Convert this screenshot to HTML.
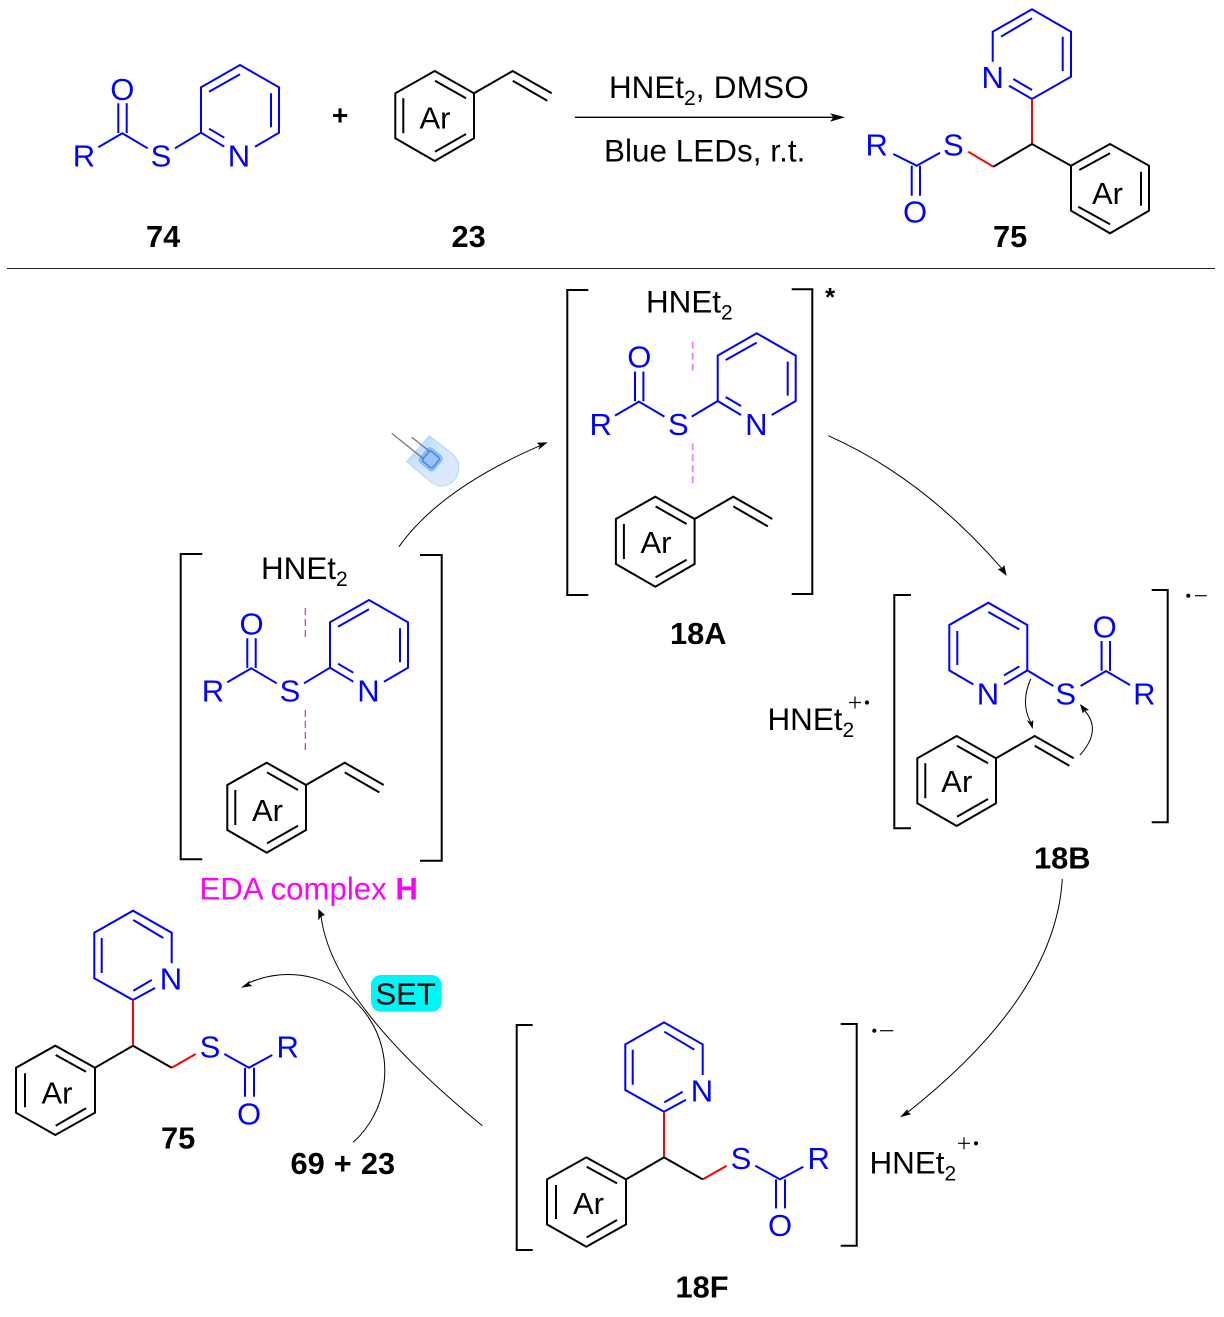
<!DOCTYPE html>
<html>
<head>
<meta charset="utf-8">
<style>
html,body{margin:0;padding:0;background:#fff}
svg{display:block}
text{font-family:"Liberation Sans",Arial,sans-serif;font-size:31px;fill:#000}
.b text,text.b{fill:#00f;text-anchor:middle}
.l{font-weight:bold;font-size:30.8px}
.w{font-size:31.4px}
.bk{fill:none;stroke:#000;stroke-width:2}
.blue{fill:none;stroke:#00f;stroke-width:2}
.thin{fill:none;stroke:#000;stroke-width:1}
.red{fill:none;stroke:#f00;stroke-width:2}
</style>
</head>
<body>
<svg width="1224" height="1317" viewBox="0 0 1224 1317" xmlns="http://www.w3.org/2000/svg">
<defs>
<linearGradient id="led" x1="0" y1="0" x2="1" y2="1">
<stop offset="0" stop-color="#a6d2f8"/><stop offset="0.45" stop-color="#d6e6fa"/><stop offset="1" stop-color="#dfeafc"/>
</linearGradient>
<g id="thio">
<path class="blue" d="M224.3 146.7L201 132.7V87.3L240 65L279 87.3V132.7L255 146.7M209 91.7L240 74.3M271 93.3V127.3M209 128.7L224.3 137.7M201 132.7L175 148.3M147.7 148.3L122.3 133.3L98.3 147.3M118.3 103.3V133M126.7 103.3V133"/>
</g>
<g id="styr">
<path class="bk" d="M434.7 71L474 93.3V138.3L434.7 161L395.3 138.3V93.3ZM435 80.7L466 98.3M435 151.7L466 134M403.3 98.3V133.3M474 93.3L512.7 71L551.7 93.3M512.7 80.7L547.3 100.7"/>
</g>
<g id="prod">
<path class="blue" d="M155 988L133 1000L94.3 978.3V932.7L133 910.7L171.7 932.7V963.3M101.7 938V973M133.3 920L163.3 938M133.3 990.7L151.7 980M224.3 1054L249 1067.7L272.3 1055M245 1067.7V1096.7M254 1067.7V1096.7"/>
<path class="red" d="M133 1000V1045.7M171.7 1067.7L195.7 1054"/>
<path class="bk" d="M133 1045.7L95 1067.7L55.3 1045.7L16 1067.7V1112.7L55.3 1135L95 1112.7V1067.7M55.7 1055L86 1071.7M25 1073.3V1107.3M55.7 1125.7L86 1108.3M133 1045.7L171.7 1067.7"/>
</g>
</defs>

<!-- top row -->
<use href="#thio"/>
<g class="b"><text x="122.3" y="100">O</text><text x="84" y="166.7">R</text><text x="161" y="166.7">S</text><text x="239" y="166.7">N</text></g>
<text x="340" y="124.5" text-anchor="middle" font-weight="bold" style="font-size:28px">+</text>
<use href="#styr"/>
<text x="419.5" y="128.3">Ar</text>
<text class="l" x="146" y="247">74</text>
<text class="l" x="451.5" y="247">23</text>

<path class="bk" style="stroke-width:1.3" d="M575 117.3H835"/>
<path d="M845 117.3L830 113.3L833.5 117.3L830 121.7Z"/>
<text class="w" x="609" y="98">HNEt<tspan dy="7" style="font-size:21px">2</tspan><tspan dy="-7" style="letter-spacing:.3px">, DMSO</tspan></text>
<text class="w" x="604" y="161.6" style="letter-spacing:.05px">Blue LEDs, r.t.</text>

<!-- product 75 top -->
<path class="blue" d="M1009 85.7L1032 99L1071 76.7V31.7L1032 9.3L992.7 31.7V61.7M1001 36.7L1032 18.3M1062.7 36.7V71M1013.3 79L1032 90M940 152.7L916.7 165.7L893.3 154M911.7 165.7V195.7M920 165.7V195.7"/>
<path class="red" d="M1032 99V144M993.3 166.7L968.3 151.7"/>
<path class="bk" d="M993.3 166.7L1032 144L1071 165.7L1110 144L1149 165.7V210.7L1110 233.3L1071 210.7V165.7M1079.3 170L1110 153.3M1141 171.7V205.7M1078.3 206.7L1110 224.3"/>
<g class="b"><text x="992.7" y="88">N</text><text x="953.3" y="155.7">S</text><text x="876.7" y="155.7">R</text><text x="915" y="222.4">O</text></g>
<text x="1092" y="204">Ar</text>
<text class="l" x="993" y="247">75</text>

<path d="M7 268.5H1215" fill="none" stroke="#222" stroke-width="1"/>

<!-- 18A -->
<path class="bk" d="M588.3 290H567.3V595H588.3M791.7 289.3H812.3V594H791.7"/>
<use href="#thio" transform="translate(516.7,268.3)"/>
<g class="b"><text x="639.3" y="367.6">O</text><text x="600.7" y="435">R</text><text x="678.3" y="435">S</text><text x="756.3" y="435">N</text></g>
<use href="#styr" transform="translate(220.6,425.7)"/>
<text x="640.5" y="553">Ar</text>
<text class="w" x="646" y="312.3">HNEt<tspan dy="7" style="font-size:21px">2</tspan></text>
<text x="825" y="306" font-weight="bold" style="font-size:26px">*</text>
<path d="M692.7 341.7V371.7M692.7 443.3V485" fill="none" stroke="#ff80ff" stroke-width="2" stroke-dasharray="7 4"/>
<text class="l" x="670" y="644">18A</text>

<!-- EDA -->
<path class="bk" d="M202.3 554H180.7V859.3H202.3M420 555H441.7V860.7H420"/>
<use href="#thio" transform="translate(129,535)"/>
<g class="b"><text x="251.5" y="634.7">O</text><text x="213" y="701.7">R</text><text x="290" y="701.7">S</text><text x="368.5" y="701.7">N</text></g>
<use href="#styr" transform="translate(-168,691.7)"/>
<text x="252" y="821">Ar</text>
<text class="w" x="261" y="579">HNEt<tspan dy="7" style="font-size:21px">2</tspan></text>
<path d="M305.3 608V638M305.3 710V751" fill="none" stroke="#b040b0" stroke-width="1.2" stroke-dasharray="7 4"/>
<text x="199.5" y="899.5" style="fill:#f0f;font-size:31.2px">EDA complex <tspan font-weight="bold">H</tspan></text>

<!-- 18B -->
<path class="bk" d="M911 595H894.3V828.3H911M1151.7 590H1167.7V822.3H1151.7"/>
<use href="#thio" transform="translate(1228.3,537.7) scale(-1,1)"/>
<g class="b"><text x="1104.7" y="637.5">O</text><text x="1144.3" y="704.4">R</text><text x="1065.7" y="704.4">S</text><text x="988" y="704.4">N</text></g>
<use href="#styr" transform="translate(522,665)"/>
<text x="941.3" y="792">Ar</text>
<circle cx="1188.3" cy="595.7" r="2.1"/>
<path d="M1195 595.7H1206.7" fill="none" stroke="#000" stroke-width="1.2"/>
<text class="w" x="767.5" y="730">HNEt<tspan dy="7" style="font-size:21px">2</tspan></text>
<path d="M849 702.5H861M855 696.5V708.5" fill="none" stroke="#000" stroke-width="1.2"/>
<circle cx="867" cy="702.5" r="2.1"/>
<text class="l" x="1034" y="868.3">18B</text>
<path class="thin" d="M1030.7 679Q1020.3 702.6 1030.5 722"/>
<path d="M1032.7 729L1026.7 720L1030.7 722.3L1033.3 720Z"/>
<path class="thin" d="M1080 755Q1102 730.5 1085 711"/>
<path d="M1080 704L1082.7 713.3L1085 710.7L1089 710Z"/>

<!-- 18F -->
<path class="bk" d="M532.7 1025H516.7V1250H532.7M840.7 1024H856.7V1245.7H840.7"/>
<use href="#prod" transform="translate(531,111.7)"/>
<g class="b"><text x="702" y="1101.4">N</text><text x="741" y="1169.1">S</text><text x="818.7" y="1169.1">R</text><text x="780" y="1236.2">O</text></g>
<text x="573" y="1214">Ar</text>
<circle cx="874.3" cy="1030.7" r="2.1"/>
<path d="M880 1030.7H893.3" fill="none" stroke="#000" stroke-width="1.2"/>
<text class="w" x="869.5" y="1173.3">HNEt<tspan dy="7" style="font-size:21px">2</tspan></text>
<path d="M958 1143.3H970M964 1137.3V1149.3" fill="none" stroke="#000" stroke-width="1.2"/>
<circle cx="976" cy="1143.3" r="2.1"/>
<text class="l" x="675.5" y="1297.5">18F</text>

<!-- 75 bottom -->
<use href="#prod"/>
<g class="b"><text x="171" y="989.7">N</text><text x="210" y="1057.4">S</text><text x="287.7" y="1057.4">R</text><text x="249" y="1124.5">O</text></g>
<text x="41.5" y="1103.3">Ar</text>
<text class="l" x="161" y="1148.5">75</text>
<text class="l" x="290.5" y="1174.2" style="word-spacing:.5px">69 + 23</text>

<!-- SET -->
<rect x="371" y="975" width="70.7" height="36.7" rx="10" fill="#00f5f5"/>
<text x="375.5" y="1004.3">SET</text>

<!-- LED -->
<path d="M429.3 435.7L406.7 461.7L432 483Q446 491 456 478Q464 462 450 452Z" fill="url(#led)" stroke="#b8d4f8" stroke-width="1"/>
<rect x="421" y="449.5" width="19.5" height="19.5" rx="4" transform="rotate(40 430.7 459.3)" fill="#4a98f5" opacity=".55"/>
<rect x="424.5" y="453" width="13" height="13" rx="2" transform="rotate(40 431 459.5)" fill="#9fc0f0" stroke="#3f8ff5" stroke-width="1.5"/>
<path d="M391.7 433.3L424 459.3M411.7 437.3L430 451.7" fill="none" stroke="#707888" stroke-width="1.3"/>

<!-- cycle arrows -->
<path class="thin" d="M399 546.7Q440 488.9 540 445.7"/>
<path d="M547.7 442.3L536.7 442.7L540 445.7L538.3 450Z"/>
<path class="thin" d="M828.3 435.7Q922.5 477.5 1001.7 568.3"/>
<path d="M1006.7 576L1004.3 565L1001.7 568.3L997.7 569Z"/>
<path class="thin" d="M1062.3 879Q1055.5 995.3 908 1112"/>
<path d="M900 1117.3L907.3 1109.3L908 1112L911 1114.3Z"/>
<path class="thin" d="M482.3 1125.7Q331.7 1002.7 321 916"/>
<path d="M318.3 909L318.3 920.5L321 916.5L325 915Z"/>
<path class="thin" d="M353.3 1142.3A96.5 96.5 0 0 0 248 983.3"/>
<path d="M241 987.7L250.7 980L248.3 983.3L252.3 986Z"/>
</svg>
</body>
</html>
